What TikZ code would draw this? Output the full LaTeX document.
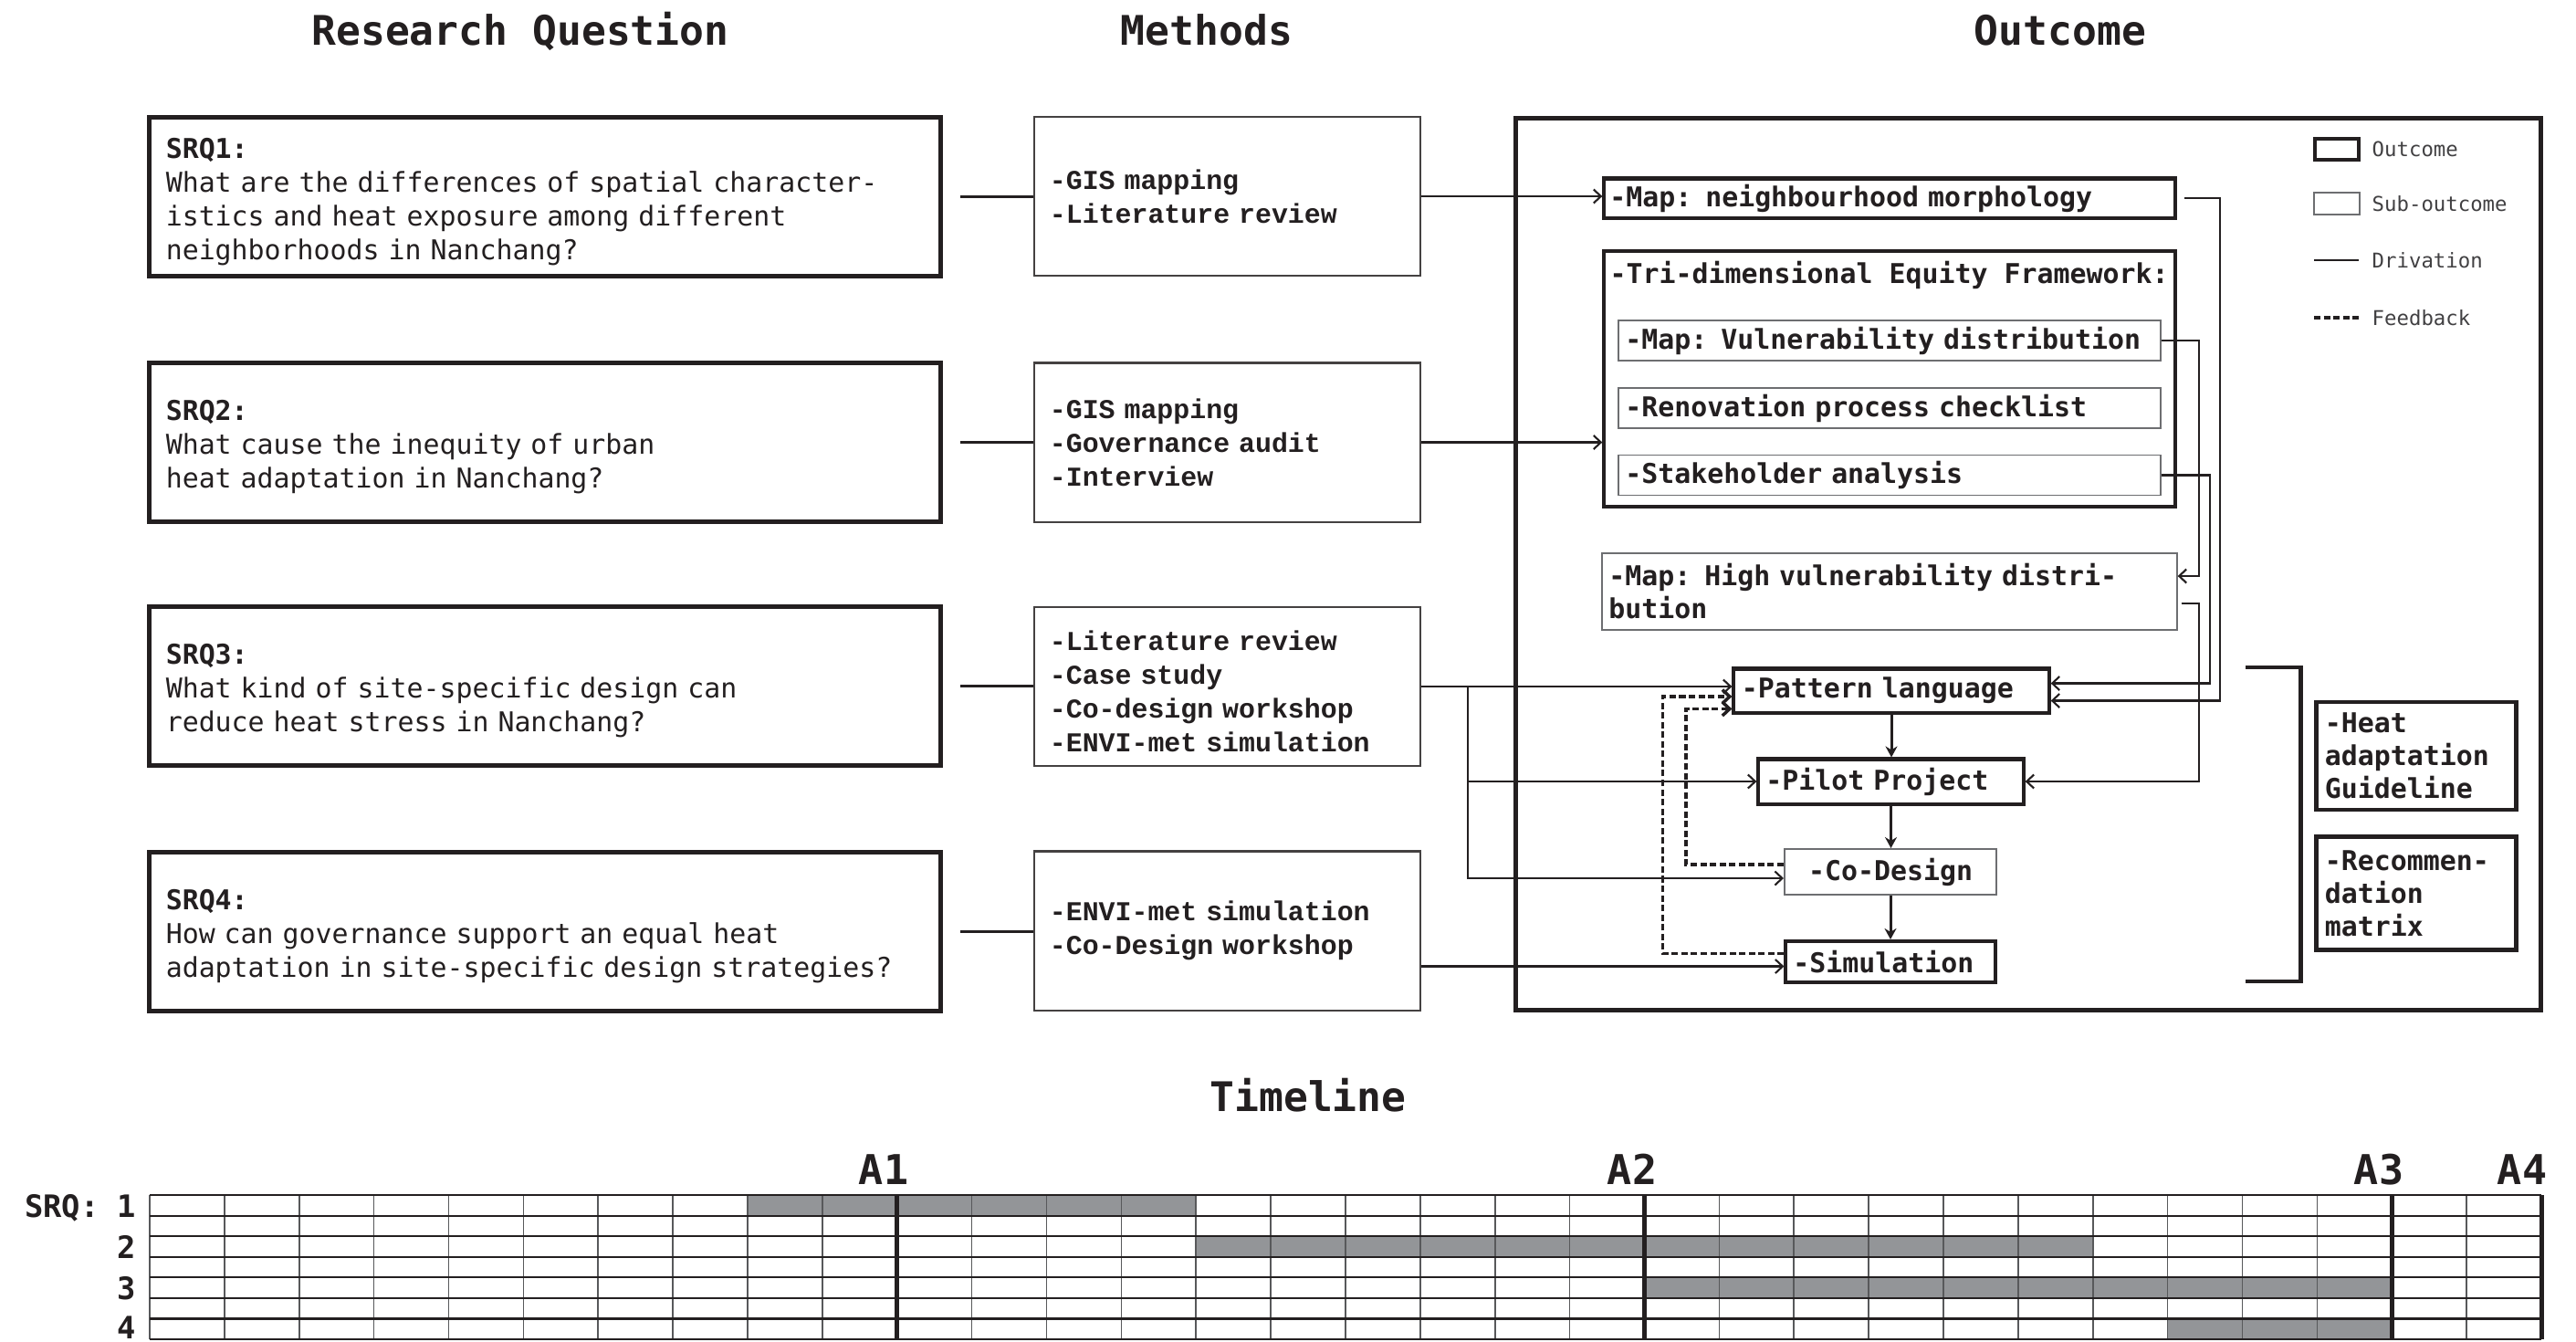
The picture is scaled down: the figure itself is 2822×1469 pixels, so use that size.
\documentclass[tikz,border=0pt]{standalone}
\usepackage{fontspec}
\usetikzlibrary{arrows.meta,calc}
\newfontfamily\monof{DejaVu Sans Mono}
\newfontfamily\methf{Liberation Mono}
\definecolor{ink}{HTML}{231F20}
\definecolor{subgray}{HTML}{6D6E71}
\definecolor{barfill}{HTML}{939598}
\definecolor{gridgray}{HTML}{58595B}
\definecolor{legink}{HTML}{414042}
% taller first line, nudges a text block a little downwards in its box
\newcommand\firststrut[1]{\rule{0pt}{#1}}

\begin{document}
\begin{tikzpicture}[x=0.01cm,y=-0.01cm,
  every node/.style={text=ink},
  title/.style={font=\monof\bfseries\fontsize{12.7}{15}\selectfont, anchor=base, inner sep=0},
  rqbox/.style={draw=ink, line width=1.4pt, minimum width=8.67cm, minimum height=1.74cm,
    text width=8.3cm, inner xsep=0.185cm, align=left, font=\monof\fontsize{8.5}{10.5}\selectfont},
  mbox/.style={draw=ink!85, line width=0.6pt, minimum width=4.23cm, minimum height=1.74cm,
    text width=3.89cm, inner xsep=0.17cm, align=left, font=\methf\bfseries\fontsize{8.5}{10.55}\selectfont},
  outtxt/.style={font=\monof\bfseries\fontsize{8.5}{10.25}\selectfont, align=left},
  outbox/.style={outtxt, draw=ink, line width=1.15pt},
  subbox/.style={outtxt, draw=subgray, line width=0.55pt},
  legtxt/.style={font=\monof\fontsize{6.35}{7.5}\selectfont, text=legink, anchor=west, inner sep=0},
  conn/.style={draw=ink, line width=0.6pt},
  arr/.style={conn, -{Straight Barb[length=0.8mm,width=1.5mm]}},
  varr/.style={draw=ink, line width=0.85pt, -{Stealth[length=1.2mm,width=1.3mm]}},
  fb/.style={draw=ink, line width=1.1pt, dash pattern=on 2pt off 1pt},
  fbarr/.style={fb, -{Straight Barb[length=0.8mm,width=1.5mm,line width=1pt]}},
  gridh/.style={draw=ink, line width=0.6pt},
  gridv/.style={draw=gridgray, line width=0.45pt},
  gridthick/.style={draw=ink, line width=1.4pt},
  alabel/.style={font=\monof\bfseries\fontsize{12.8}{15}\selectfont, anchor=base, inner sep=0},
  srqlab/.style={font=\monof\bfseries\fontsize{9.6}{11}\selectfont, anchor=base east, inner sep=0}
]
\useasboundingbox (0,0) rectangle (2822,1469);

% column titles
\node[title] (tRQ) at (570,49) {Research Question};
\node[title] (tM) at (1322,49) {Methods};
\node[title] (tO) at (2257,49) {Outcome};

% research questions
\node[rqbox] (srq1) at (597,215.5) {\firststrut{9.4pt}\textbf{SRQ1:}\\What are the differences of spatial character-\\istics and heat exposure among different\\neighborhoods in Nanchang?};
\node[rqbox] (srq2) at (597,484.5) {\firststrut{9.4pt}\textbf{SRQ2:}\\What cause the inequity of urban\\heat adaptation in Nanchang?};
\node[rqbox] (srq3) at (597,751.5) {\firststrut{9.4pt}\textbf{SRQ3:}\\What kind of site-specific design can\\reduce heat stress in Nanchang?};
\node[rqbox] (srq4) at (597,1020.5) {\firststrut{9.4pt}\textbf{SRQ4:}\\How can governance support an equal heat\\adaptation in site-specific design strategies?};

% methods
\node[mbox] (m1) at (1344.5,215) {-GIS mapping\\-Literature review};
\node[mbox] (m2) at (1344.5,484.5) {-GIS mapping\\-Governance audit\\-Interview};
\node[mbox] (m3) at (1344.5,752) {\firststrut{9pt}-Literature review\\-Case study\\-Co-design workshop\\-ENVI-met simulation};
\node[mbox] (m4) at (1344.5,1019.5) {-ENVI-met simulation\\-Co-Design workshop};

% outcome frame
\node[draw=ink, line width=1.4pt, minimum width=11.23cm, minimum height=9.77cm, inner sep=0] (obox) at (2222,618) {};

% legend
\node[draw=ink, line width=1.25pt, minimum width=0.476cm, minimum height=0.226cm, inner sep=0] (lgO) at (2560,163.5) {};
\node[legtxt] (lgOt) at (2598,163) {Outcome};
\node[draw=subgray, line width=0.55pt, minimum width=0.5cm, minimum height=0.245cm, inner sep=0] (lgS) at (2560,223) {};
\node[legtxt] (lgSt) at (2598,223) {Sub-outcome};
\coordinate (lgD1) at (2535,285);
\coordinate (lgD2) at (2584,285);
\draw[conn] (lgD1) -- (lgD2);
\node[legtxt] (lgDt) at (2598,285) {Drivation};
\coordinate (lgF1) at (2535,348);
\coordinate (lgF2) at (2584,348);
\draw[fb] (lgF1) -- (lgF2);
\node[legtxt] (lgFt) at (2598,348) {Feedback};

% outcome nodes
\node[outbox, minimum width=6.25cm, minimum height=0.43cm, text width=6.13cm, inner xsep=0.06cm, inner ysep=0] (morph) at (2070,217) {-Map: neighbourhood morphology};
\node[outbox, minimum width=6.25cm, minimum height=2.79cm, inner sep=0] (tri) at (2070,415) {};
\node[outtxt, anchor=west, inner sep=0] (tritxt) at (1763,301) {-Tri-dimensional Equity Framework:};
\node[subbox, minimum width=5.93cm, minimum height=0.44cm, text width=5.79cm, inner xsep=0.07cm, inner ysep=0] (vuln) at (2070,373) {-Map: Vulnerability distribution};
\node[subbox, minimum width=5.93cm, minimum height=0.44cm, text width=5.79cm, inner xsep=0.07cm, inner ysep=0] (renov) at (2070,447) {-Renovation process checklist};
\node[subbox, minimum width=5.93cm, minimum height=0.44cm, text width=5.79cm, inner xsep=0.07cm, inner ysep=0] (stake) at (2070,520.5) {-Stakeholder analysis};
\node[subbox, minimum width=6.29cm, minimum height=0.83cm, text width=6.15cm, inner xsep=0.07cm] (highv) at (2070,648) {-Map: High vulnerability distri-\\bution};

\node[outbox, minimum width=3.45cm, minimum height=0.48cm, text width=3.28cm, inner xsep=0.085cm, inner ysep=0] (pattern) at (2072,756.5) {-Pattern language};
\node[outbox, minimum width=2.90cm, minimum height=0.49cm, text width=2.74cm, inner xsep=0.08cm, inner ysep=0] (pilot) at (2071.5,856) {-Pilot Project};
\node[subbox, minimum width=2.32cm, minimum height=0.50cm, align=center, inner ysep=0] (codesign) at (2071,955) {-Co-Design};
\node[outbox, minimum width=2.29cm, minimum height=0.45cm, text width=2.13cm, inner xsep=0.08cm, inner ysep=0] (sim) at (2071,1053.5) {-Simulation};

\node[outbox, line width=1.25pt, minimum width=2.19cm, minimum height=1.17cm, text width=2.0cm, inner xsep=0.095cm] (heat) at (2647,828) {-Heat\\adaptation\\Guideline};
\node[outbox, line width=1.25pt, minimum width=2.19cm, minimum height=1.24cm, text width=2.0cm, inner xsep=0.095cm] (recom) at (2647,978.5) {-Recommen-\\dation\\matrix};

% bracket grouping the final outcomes
\coordinate (brT) at (2460,731);
\coordinate (brB) at (2460,1075);
\draw[draw=ink, line width=1.4pt] (brT) -- ++(60,0) |- (brB);

% research questions to methods
\draw[conn, shorten <=0.19cm] (srq1.east) -- (srq1.east -| m1.west);
\draw[conn, shorten <=0.19cm] (srq2.east) -- (srq2.east -| m2.west);
\draw[conn, shorten <=0.19cm] (srq3.east) -- (srq3.east -| m3.west);
\draw[conn, shorten <=0.19cm] (srq4.east) -- (srq4.east -| m4.west);

% methods to outcomes
\draw[arr] (m1.east) -- (m1.east -| morph.west);
\draw[arr] (m2.east) -- (m2.east -| tri.west);
\draw[arr] (m3.east) -- (m3.east -| pattern.west);
\draw[arr] (m3.east) ++(51,0) |- (pilot.west);
\coordinate (cdin) at ($(codesign.west)+(0,7)$);
\draw[arr] (m3.east) ++(51,0) |- (cdin);
\coordinate (simin) at ($(sim.west)+(0,5)$);
\draw[arr] (m4.east |- simin) -- (simin);

% design loop
\draw[varr] (pattern.south) -- (pattern.south |- pilot.north);
\draw[varr] (pilot.south) -- (pilot.south |- codesign.north);
\draw[varr] (codesign.south) -- (codesign.south |- sim.north);

% feedback
\draw[fbarr] ($(codesign.west)+(0,-8)$) -- ++(-107,0) |- ($(pattern.west)+(0,20)$);
\draw[fbarr] ($(sim.west)+(0,-9)$) -- ++(-133,0) |- ($(pattern.west)+(0,6.5)$);

% derivations on the right
\draw[arr, shorten <=0.08cm] (morph.east) -- ++(47,0) |- ($(pattern.east)+(0,11)$);
\draw[arr] (stake.east) -- ++(53,0) |- ($(pattern.east)+(0,-8)$);
\draw[arr] (vuln.east) -- ++(41,0) |- ($(highv.east)+(0,-17)$);
\draw[arr] ($(highv.east)+(4,13)$) -- ++(19,0) |- (pilot.east);

% timeline
\node[title] (tT) at (1433,1217) {Timeline};
\foreach \r/\a/\b in {0/8/14, 2/14/26, 4/20/30, 6/27/30}
  \fill[barfill] ({164+\a*81.875},{1309+\r*22.571}) rectangle ({164+\b*81.875},{1309+(\r+1)*22.571});
\foreach \j in {0,...,32}
  \draw[gridv] ({164+\j*81.875},1309) -- ({164+\j*81.875},1467);
\foreach \i in {0,...,7}
  \draw[gridh] (164,{1309+\i*22.571}) -- (2784,{1309+\i*22.571});
\foreach \j in {10,20,30,32}
  \draw[gridthick] ({164+\j*81.875},1309) -- ({164+\j*81.875},1467);

\node[alabel] (a1) at (968,1297) {A1};
\node[alabel] (a2) at (1788,1297) {A2};
\node[alabel] (a3) at (2606,1297) {A3};
\node[alabel] (a4) at (2763,1297) {A4};

\node[srqlab] (s1) at (150,1333) {SRQ: 1};
\node[srqlab] (s2) at (150,1378) {2};
\node[srqlab] (s3) at (150,1423) {3};
\node[srqlab] (s4) at (150,1466) {4};
\end{tikzpicture}
\end{document}
